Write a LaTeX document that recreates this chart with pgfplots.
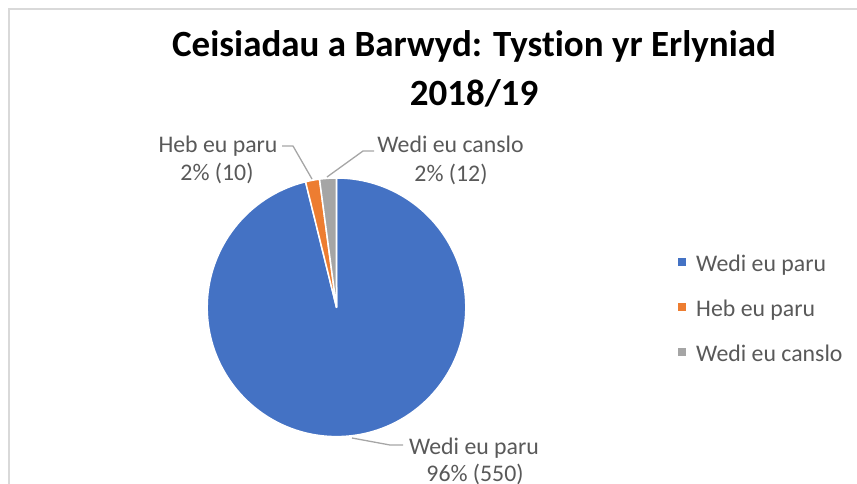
\documentclass[border=0pt]{standalone}
\usepackage{pgfplots}
\pgfplotsset{compat=1.18}
\usepackage{pgfplotstable}
\usepackage{fontspec}
\setmainfont{Carlito}[Ligatures={NoCommon,NoContextual}]
\definecolor{sblue}{HTML}{4472C4}
\definecolor{sorange}{HTML}{ED7D31}
\definecolor{sgray}{HTML}{A5A5A5}
\definecolor{txt}{HTML}{595959}
\definecolor{lead}{HTML}{A6A6A6}
\definecolor{frm}{HTML}{D9D9D9}

\pgfplotstableread[col sep=comma]{
label,value
Wedi eu paru,550
Heb eu paru,10
Wedi eu canslo,12
}\piedata

\begin{document}
\begin{tikzpicture}
\pgfplotstablegetelem{0}{value}\of\piedata \pgfmathsetmacro\va{\pgfplotsretval}
\pgfplotstablegetelem{1}{value}\of\piedata \pgfmathsetmacro\vb{\pgfplotsretval}
\pgfplotstablegetelem{2}{value}\of\piedata \pgfmathsetmacro\vc{\pgfplotsretval}
\pgfmathsetmacro\tot{\va+\vb+\vc}
\pgfmathsetmacro\aA{90}
\pgfmathsetmacro\aB{90-360*(\va/\tot)}
\pgfmathsetmacro\aC{\aB-360*(\vb/\tot)}
\pgfmathsetmacro\aD{\aC-360*(\vc/\tot)}
\def\R{129.3pt}
\begin{axis}[at={(0,0)},anchor=south west,width=857pt,height=483pt,
  scale only axis,hide axis,xmin=0,xmax=857,ymin=0,ymax=483,y dir=reverse,clip=false]
% frame
\draw[frm,line width=1.5pt] (axis cs:9,490) -- (axis cs:9,9) -- (axis cs:870,9);
% pie
\filldraw[fill=sblue,draw=white,line width=1.5pt,line join=round] (axis cs:336.5,307.3) -- ++(\aA:\R) arc[start angle=\aA,end angle=\aB,radius=\R] -- cycle;
\filldraw[fill=sorange,draw=white,line width=1.5pt,line join=round] (axis cs:336.5,307.3) -- ++(\aB:\R) arc[start angle=\aB,end angle=\aC,radius=\R] -- cycle;
\filldraw[fill=sgray,draw=white,line width=1.5pt,line join=round] (axis cs:336.5,307.3) -- ++(\aC:\R) arc[start angle=\aC,end angle=\aD,radius=\R] -- cycle;
% title
\node[anchor=base,font=\fontsize{37}{44}\selectfont\bfseries] at (axis cs:474,56) {Ceisiadau a Barwyd: Tystion yr Erlyniad};
\node[anchor=base,font=\fontsize{37}{44}\selectfont\bfseries] at (axis cs:474,105) {2018/19};
% leader lines
\draw[lead,line width=1.3pt] (axis cs:282,146) -- (axis cs:293,146) -- (axis cs:312,179);
\draw[lead,line width=1.3pt] (axis cs:327,177) -- (axis cs:363,151) -- (axis cs:374,151);
\draw[lead,line width=1.3pt] (axis cs:352,438) -- (axis cs:390,445) -- (axis cs:403,445);
% data labels
\begin{scope}[every node/.style={anchor=base,text=txt,font=\fontsize{23.8}{28}\selectfont,inner sep=0pt}]
\node at (axis cs:218,152) {Heb eu paru};
\node at (axis cs:217,180) {2\% (10)};
\node at (axis cs:450.5,152) {Wedi eu canslo};
\node at (axis cs:451,181) {2\% (12)};
\node at (axis cs:474,454) {Wedi eu paru};
\node at (axis cs:475,481) {96\% (550)};
% legend
\node[anchor=base west] at (axis cs:696,271) {Wedi eu paru};
\node[anchor=base west] at (axis cs:696,316) {Heb eu paru};
\node[anchor=base west] at (axis cs:696,361) {Wedi eu canslo};
\end{scope}
\fill[sblue] (axis cs:678,258) rectangle (axis cs:686,266);
\fill[sorange] (axis cs:678,303) rectangle (axis cs:686,311);
\fill[sgray] (axis cs:678,348) rectangle (axis cs:686,356);
\end{axis}
\pgfresetboundingbox
\useasboundingbox (0,0) rectangle (857pt,483pt);
\end{tikzpicture}
\end{document}
